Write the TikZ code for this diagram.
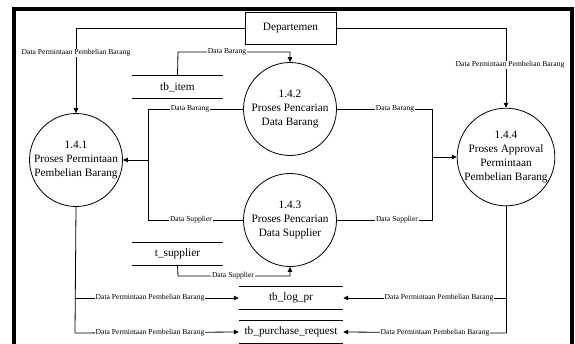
\documentclass[tikz,border=0pt]{standalone}
\usepackage{fontspec}
\setmainfont{Liberation Serif}
\usetikzlibrary{arrows.meta}

\begin{document}
\begin{tikzpicture}[x=1pt,y=-1pt,
  proc/.style={circle,draw,line width=0.8pt,minimum size=93pt,inner sep=0pt,
    align=center,font=\fontsize{11.3}{14}\selectfont},
  entity/.style={draw,line width=0.8pt,minimum width=91pt,minimum height=32pt,
    inner sep=0pt,font=\fontsize{11.3}{14}\selectfont},
  store/.style={minimum width=#1,minimum height=22pt,inner sep=0pt,
    font=\fontsize{11.3}{14}\selectfont},
  link/.style={draw,line width=0.8pt},
  flow/.style={link,-{Triangle[length=5pt,width=4.5pt]}},
  lbl/.style={fill=white,inner sep=1pt,font=\fontsize{7.6}{9}\selectfont},
  storeline/.style={line width=1pt}
]
\useasboundingbox (0,0) rectangle (575,343);
\fill[white] (0,0) rectangle (575,343);

% outer frame (open at the bottom)
\draw[line width=4pt] (14,350) -- (14,9) -- (572,9) -- (572,350);

% external entity
\node[entity] (dep) at (290.5,28) {Departemen};

% processes
\node[proc] (p1) at (76,160) {1.4.1\\Proses Permintaan\\Pembelian Barang};
\node[proc] (p2) at (290,109) {1.4.2\\Proses Pencarian\\Data Barang};
\node[proc] (p3) at (290,220) {1.4.3\\Proses Pencarian\\Data Supplier};
\node[proc,minimum size=95pt] (p4) at (506,157) {1.4.4\\Proses Approval\\Permintaan\\Pembelian Barang};

% data stores
\node[store=91pt] (item) at (177.5,87) {tb\_item};
\node[store=91pt] (sup) at (177.5,254) {t\_supplier};
\node[store=104pt] (log) at (291,298) {tb\_log\_pr};
\node[store=104pt] (req) at (291,332) {tb\_purchase\_request};
\foreach \s in {item,sup,log,req}{
  \draw[storeline] (\s.north west) -- (\s.north east);
  \draw[storeline] (\s.south west) -- (\s.south east);
}

% junction points
\coordinate (ti) at (178,52);
\coordinate (jl) at (148,160);
\coordinate (jr) at (432,157);
\coordinate (ts) at (178,276);
\coordinate (bl1) at (75,298);
\coordinate (bl2) at (75,333);
\coordinate (br1) at (506,298);
\coordinate (br2) at (506,333);

% entity to processes
\draw[flow] (dep.west) -| (p1.north);
\draw[flow] (dep.east) -| (p4.north);

% data stores to searches
\draw[flow] (item.north) -- (ti) -| (p2.north);
\draw[flow] (sup.south) -- (ts) -| (p3.south);

% search results to 1.4.1
\draw[link] (p2.west) -| (jl);
\draw[link] (p3.west) -| (jl);
\draw[flow] (jl) -- (p1.east);

% search results to 1.4.4
\draw[link] (p2.east) -| (jr);
\draw[link] (p3.east) -| (jr);
\draw[flow] (jr) -- (p4.west);

% requests written to the stores
\draw[link] (p1.south) -- (bl2);
\draw[flow] (bl1) -- (log.west);
\draw[flow] (bl2) -- (req.west);
\draw[link] (p4.south) -- (br2);
\draw[flow] (br1) -- (log.east);
\draw[flow] (br2) -- (req.east);

% flow labels
\node[lbl] (l1) at (76,53) {Data Permintaan Pembelian Barang};
\node[lbl] (l2) at (510,65) {Data Permintaan Pembelian Barang};
\node[lbl] (l3) at (227,52) {Data Barang};
\node[lbl] (l4) at (190,109) {Data Barang};
\node[lbl] (l5) at (395,109) {Data Barang};
\node[lbl] (l6) at (191,220) {Data Supplier};
\node[lbl] (l7) at (397,220) {Data Supplier};
\node[lbl] (l8) at (233,276) {Data Supplier};
\node[lbl] (l9) at (150,298) {Data Permintaan Pembelian Barang};
\node[lbl] (l10) at (150,333) {Data Permintaan Pembelian Barang};
\node[lbl] (l11) at (439,298) {Data Permintaan Pembelian Barang};
\node[lbl] (l12) at (435,333) {Data Permintaan Pembelian Barang};
\end{tikzpicture}
\end{document}
